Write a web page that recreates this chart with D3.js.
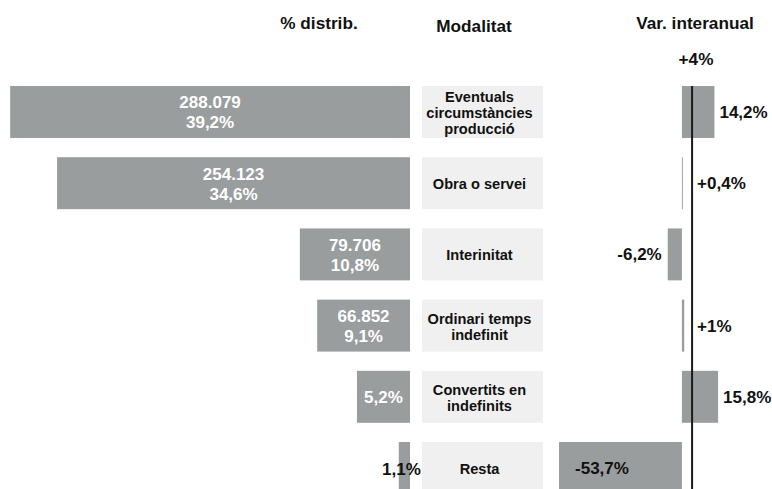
<!DOCTYPE html>
<html><head><meta charset="utf-8">
<script src="https://cdn.jsdelivr.net/npm/d3@7"></script>
<style>
html,body{margin:0;padding:0;background:#fff;}
svg{display:block;font-family:"Liberation Sans",Arial,sans-serif;font-weight:bold;}
</style></head>
<body><svg id="c" width="772" height="489"></svg>
<script>
// ---- data ----
const headers = ["% distrib.", "Modalitat", "Var. interanual"];
const modalitats = [
  ["Eventuals", "circumstàncies", "producció"],
  ["Obra o servei"],
  ["Interinitat"],
  ["Ordinari temps", "indefinit"],
  ["Convertits en", "indefinits"],
  ["Resta"]
];
const contractes = [288079, 254123, 79706, 66852, null, null];
const distribPct = [39.2, 34.6, 10.8, 9.1, 5.2, 1.1];
const varInteranual = [14.2, 0.4, -6.2, 1, 15.8, -53.7];
const varLabels = ["14,2%", "+0,4%", "-6,2%", "+1%", "15,8%", "-53,7%"];
const varTotal = 4;
const varTotalLabel = "+4%";

// ---- drawing ----
const loc = d3.formatLocale({decimal: ",", thousands: ".", grouping: [3], currency: ["", "€"]});
const fInt = loc.format(",d");
const fPct = v => loc.format(".1f")(v) + "%";

const svg = d3.select("#c");
const GRAY = "#9a9d9e", BOX = "#f0f0f0";
const idx = d3.range(modalitats.length);

const y = d3.scaleBand().domain(idx).range([86, 494]).paddingInner(0.27).paddingOuter(0);
const xl = d3.scaleLinear().domain([0, 40]).range([410, 2]);
const xr = d3.scaleLinear().domain([-60, 20]).range([544.6, 727.7]);
const boxX0 = 422, boxX1 = 543;

// headers
const hx = [319, 474, 695], hy = [29, 32, 29];
svg.selectAll("text.h").data(headers).join("text").attr("class", "h")
  .attr("x", (d, i) => hx[i]).attr("y", (d, i) => hy[i])
  .attr("text-anchor", "middle").attr("font-size", 17.2).attr("fill", "#111").text(d => d);
svg.append("text").attr("x", 696).attr("y", 65).attr("text-anchor", "middle")
  .attr("font-size", 17.2).attr("fill", "#111").text(varTotalLabel);

// left bars
svg.selectAll("rect.l").data(idx).join("rect").attr("class", "l")
  .attr("x", i => xl(distribPct[i])).attr("y", i => y(i))
  .attr("width", i => xl(0) - xl(distribPct[i])).attr("height", y.bandwidth())
  .attr("fill", GRAY);

idx.forEach(i => {
  const cx = (xl(0) + xl(distribPct[i])) / 2;
  const cy = y(i) + y.bandwidth() / 2;
  const narrow = (xl(0) - xl(distribPct[i])) < 30;
  const lines = contractes[i] != null ? [fInt(contractes[i]), fPct(distribPct[i])] : [fPct(distribPct[i])];
  const t = svg.append("text").attr("text-anchor", "middle").attr("font-size", 17)
    .attr("fill", narrow ? "#111" : "#fff");
  lines.forEach((s, k) => {
    t.append("tspan").attr("x", narrow ? cx - 3 : cx)
      .attr("y", cy + 6.5 + (k - (lines.length - 1) / 2) * 20).text(s);
  });
});

// modalitat boxes
svg.selectAll("rect.b").data(idx).join("rect").attr("class", "b")
  .attr("x", boxX0).attr("y", i => y(i)).attr("width", boxX1 - boxX0).attr("height", y.bandwidth())
  .attr("fill", BOX);
idx.forEach(i => {
  const cy = y(i) + y.bandwidth() / 2;
  const lines = modalitats[i];
  const t = svg.append("text").attr("text-anchor", "middle").attr("font-size", 14.6).attr("fill", "#111");
  lines.forEach((s, k) => {
    t.append("tspan").attr("x", (boxX0 + boxX1) / 2 - 3)
      .attr("y", cy + 6 + (k - (lines.length - 1) / 2) * 16).text(s);
  });
});

// right bars
svg.selectAll("rect.r").data(idx).join("rect").attr("class", "r")
  .attr("x", i => Math.min(xr(0), xr(varInteranual[i]))).attr("y", i => y(i))
  .attr("width", i => Math.abs(xr(varInteranual[i]) - xr(0))).attr("height", y.bandwidth())
  .attr("fill", GRAY);

// total line
svg.append("line").attr("x1", xr(varTotal) + 1).attr("x2", xr(varTotal) + 1)
  .attr("y1", y(0)).attr("y2", 489).attr("stroke", "#1c1a14").attr("stroke-width", 2);

idx.forEach(i => {
  const v = varInteranual[i];
  const cy = y(i) + y.bandwidth() / 2 + 6;
  let x, anchor;
  if (v >= 0) { x = Math.max(xr(v), xr(varTotal) + 1) + 5; anchor = "start"; }
  else if (xr(0) - xr(v) > 60) { x = xr(v) + 16; anchor = "start"; }
  else { x = xr(v) - 6; anchor = "end"; }
  svg.append("text").attr("x", x).attr("y", cy).attr("text-anchor", anchor)
    .attr("font-size", 17).attr("fill", "#111").text(varLabels[i]);
});
</script></body></html>
